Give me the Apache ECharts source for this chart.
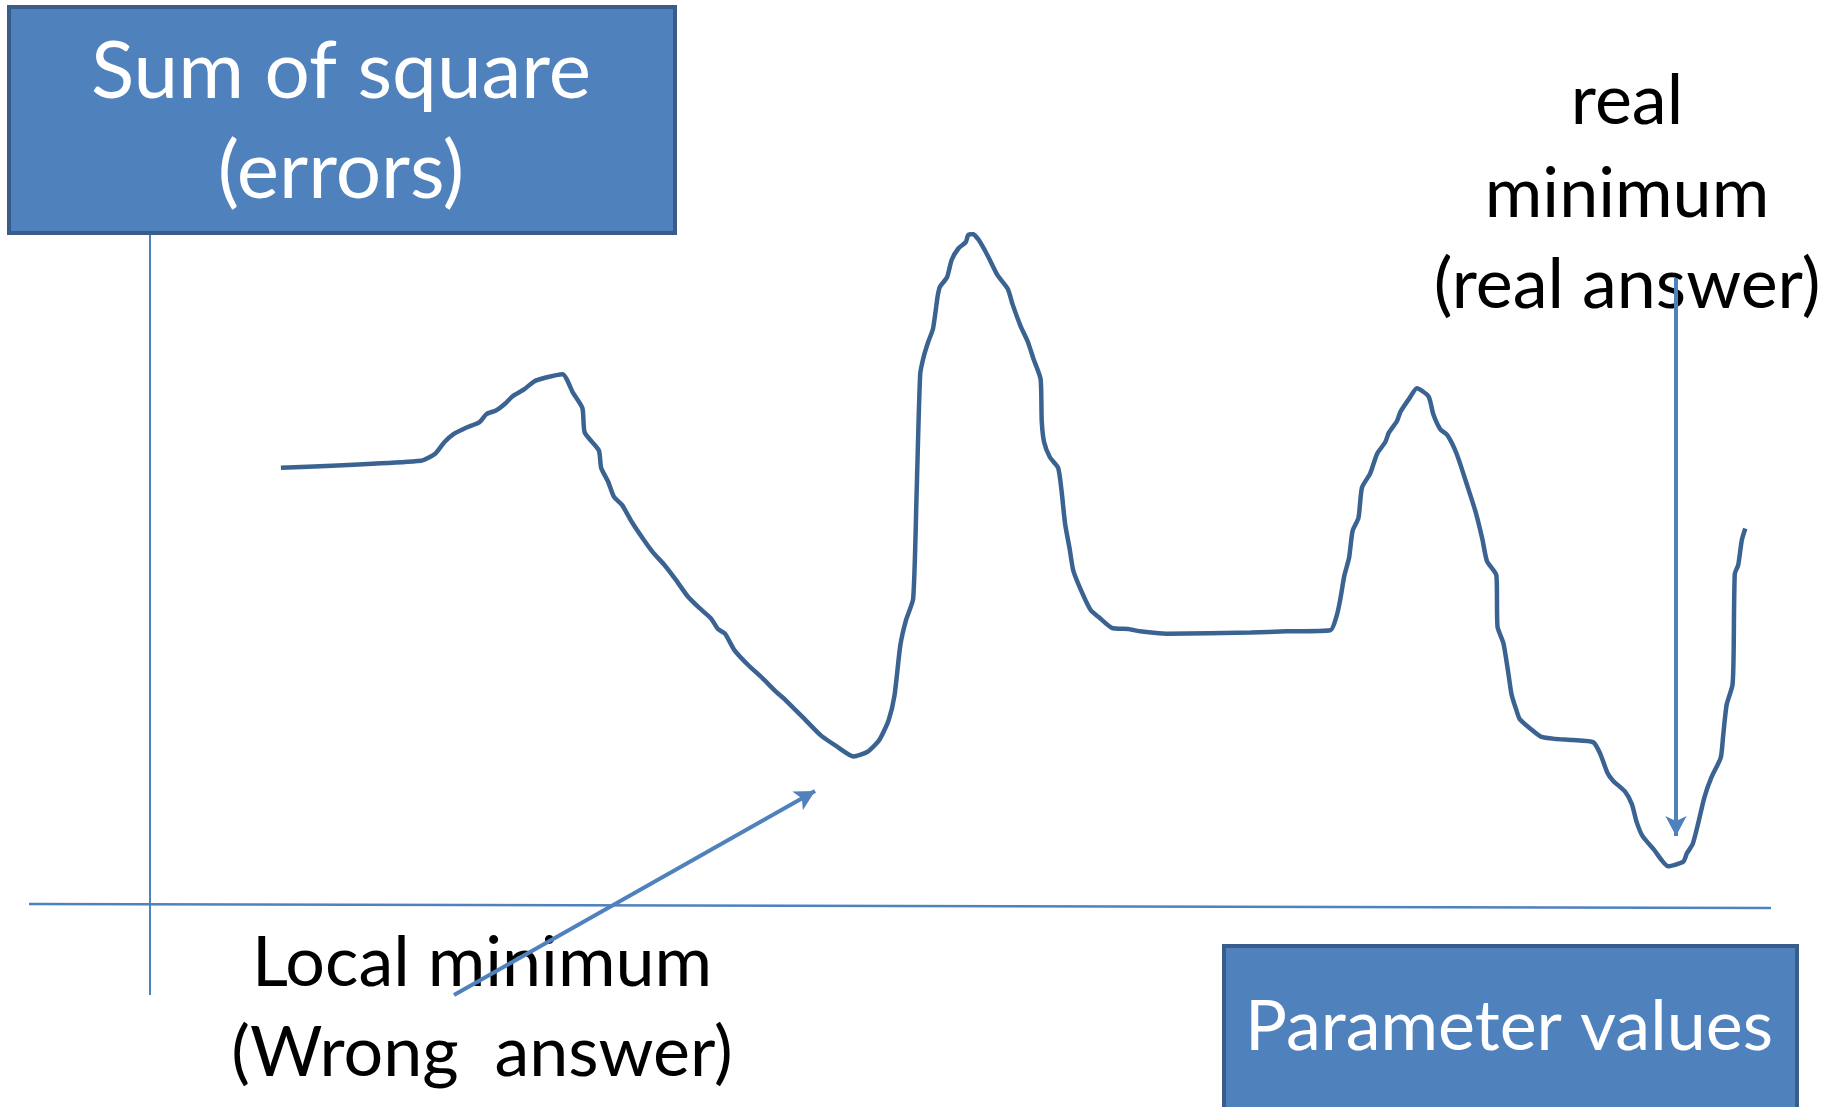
<!DOCTYPE html>
<html>
<head>
<meta charset="utf-8">
<script src="https://cdn.jsdelivr.net/npm/echarts@6/dist/echarts.min.js"></script>
<style>
  html, body { margin: 0; padding: 0; background: #fff; }
  #ErrorCurve { width: 1833px; height: 1107px; }
</style>
</head>
<body>
<div id="ErrorCurve"></div>
<script>
  // curve: parameter value -> sum of squared errors (arbitrary units)
  const paramValues = [
    112, 232, 244, 252, 260, 270, 282, 288, 296, 304, 310, 320, 329, 338, 353,
    362, 370, 372, 384, 386, 392, 397, 404, 412, 422, 430, 440, 450, 460, 470,
    480, 486, 492, 500, 512, 524, 536, 544, 562, 574, 587, 602,
    614, 624, 632, 637, 642, 647, 653, 656, 659, 662, 666, 670, 674, 676, 682,
    686, 692, 698, 700, 704,
    709, 717, 725, 734, 738, 745, 751, 756, 762, 763, 765, 770, 777, 780, 783,
    787, 790, 798, 805, 812, 823, 837, 847, 870, 942, 972, 1010,
    1015, 1018, 1022, 1026, 1029, 1034, 1037, 1044, 1050, 1057, 1060, 1067, 1070, 1078, 1084,
    1094, 1098, 1104, 1110, 1118, 1127, 1134, 1140, 1144, 1152, 1153, 1158, 1162, 1165,
    1169, 1172, 1182, 1190, 1202, 1217, 1235, 1241, 1247, 1252, 1262, 1268, 1272, 1277,
    1287, 1299,
    1312, 1315, 1320, 1325, 1330, 1336, 1344, 1346, 1349, 1354, 1355, 1356, 1359, 1362, 1365
  ];
  const errorValues = [
    375, 381, 387, 397, 404, 409, 414, 421, 424, 430, 436, 442, 449, 452, 455,
    439, 426, 405, 390, 375, 363, 350, 343, 329, 314, 303, 292, 279, 265, 255,
    246, 237, 233, 219, 206, 195, 183, 176, 158, 146, 137, 128,
    132, 142, 159, 180, 223, 245, 263, 355, 455, 470, 483, 494, 522, 530, 538,
    553, 563, 568, 574, 575,
    570, 556, 540, 528, 515, 496, 483, 468, 451, 415, 397, 384, 375, 355, 327,
    305, 287, 267, 253, 247, 238, 237, 235, 233, 234, 235, 236,
    247, 260, 283, 298, 321, 332, 358, 370, 387, 397, 405, 415, 423, 435, 443,
    436, 421, 408, 403, 387, 360, 338, 314, 295, 283, 239, 225, 201, 181,
    168, 160, 151, 145, 143, 142, 140, 130, 114, 107, 98, 87, 72, 60,
    48, 34,
    38, 45, 53, 72, 93, 110, 127, 145, 172, 189, 215, 284, 292, 313, 323
  ];

  const yLabel = ['Sum of square', '(errors)'];
  const xLabel = 'Parameter values';
  const realLabel = ['real', 'minimum', '(real answer)'];
  const localLabel = ['Local minimum', '(Wrong  answer)'];

  const boxFill = '#4F81BD';
  const boxEdge = '#385D8A';
  const curveColor = '#3B6392';
  const font = 'Lato, "Open Sans", sans-serif';

  let myChart = echarts.init(document.getElementById('ErrorCurve'));

  function textLine(str, x, y, size, color) {
    return {
      type: 'text', x: x, y: y, z: 20,
      style: {
        text: str, fill: color, font: size + 'px ' + font,
        textAlign: 'center', textVerticalAlign: 'middle'
      }
    };
  }

  let graphics = [
    // axes drawn by hand, they run past each other like in the sketch
    { type: 'line', z: 5, shape: { x1: 150, y1: 234, x2: 150, y2: 995 },
      style: { stroke: boxFill, lineWidth: 2 } },
    { type: 'line', z: 5, shape: { x1: 29, y1: 904, x2: 1771, y2: 908 },
      style: { stroke: boxFill, lineWidth: 2.5 } },
    // boxes
    { type: 'rect', z: 10, shape: { x: 9, y: 7, width: 666, height: 226 },
      style: { fill: boxFill, stroke: boxEdge, lineWidth: 4 } },
    { type: 'rect', z: 10, shape: { x: 1224, y: 946, width: 573, height: 180 },
      style: { fill: boxFill, stroke: boxEdge, lineWidth: 4 } },
    textLine(yLabel[0], 341, 72, 80, '#fff'),
    textLine(yLabel[1], 341, 172, 80, '#fff'),
    textLine(xLabel, 1509, 1027, 70, '#fff'),
    textLine(realLabel[0], 1627, 101, 70, '#000'),
    textLine(realLabel[1], 1627, 194, 70, '#000'),
    textLine(realLabel[2], 1627, 285, 70, '#000'),
    textLine(localLabel[0], 482, 963, 70, '#000'),
    textLine(localLabel[1], 482, 1053, 70, '#000')
  ];

  let option = {
    backgroundColor: '#fff',
    animation: false,
    grid: { left: 150, top: 234, width: 1621, height: 672 },
    xAxis: { type: 'value', min: 0, max: 1387, show: false },
    yAxis: { type: 'value', min: 0, max: 575, show: false },
    graphic: graphics,
    series: [
      {
        name: 'errors',
        type: 'line',
        showSymbol: false,
        smooth: 0.2,
        z: 3,
        lineStyle: { color: curveColor, width: 4.5 },
        data: paramValues.map((p, i) => [p, errorValues[i]]),
        markLine: {
          silent: true,
          z: 30,
          symbol: ['none', 'arrow'],
          symbolSize: [16, 20],
          label: { show: false },
          lineStyle: { color: boxFill, width: 4, type: 'solid' },
          data: [
            [{ x: 454, y: 995 }, { x: 815, y: 791 }],
            [{ x: 1676, y: 278 }, { x: 1676, y: 836 }]
          ]
        }
      }
    ]
  };
  myChart.setOption(option);
</script>
</body>
</html>
